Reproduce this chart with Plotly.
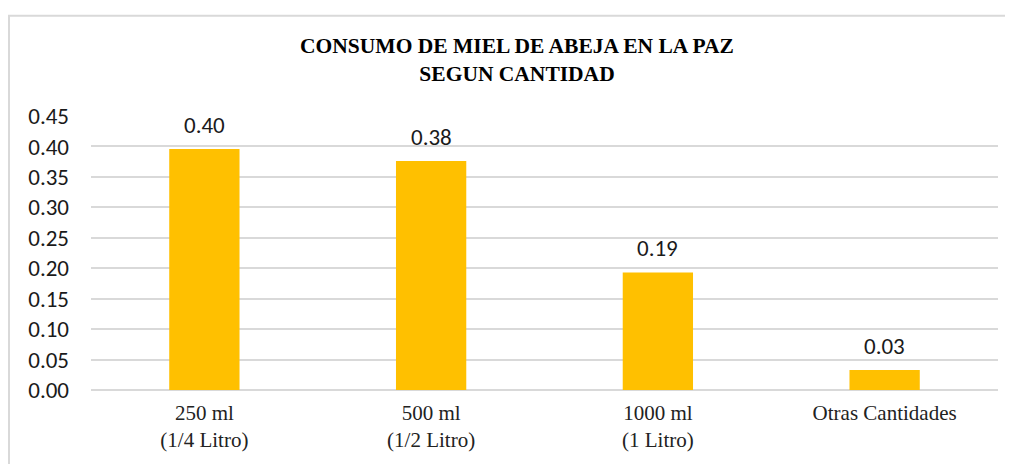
import plotly.graph_objects as go

categorias = ["250 ml<br>(1/4 Litro)", "500 ml<br>(1/2 Litro)", "1000 ml<br>(1 Litro)", "Otras Cantidades"]
consumo = [0.396, 0.376, 0.193, 0.033]
ticks_y = [0.00, 0.05, 0.10, 0.15, 0.20, 0.25, 0.30, 0.35, 0.40, 0.45]

fuente_num = "Carlito, Liberation Sans, sans-serif"
fuente_serif = "Liberation Serif, Times New Roman, serif"

fig = go.Figure()
fig.add_trace(go.Bar(
    x=categorias,
    y=consumo,
    marker=dict(color="#FFC000", line=dict(width=0)),
    width=0.31,
))

# etiquetas de datos encima de cada barra
for c, v in zip(categorias, consumo):
    fig.add_annotation(x=c, y=v, text=f"{v:.2f}", showarrow=False, yshift=24,
                       font=dict(family=fuente_num, size=23, color="#1a1a1a"))

# borde del grafico
fig.add_shape(type="rect", xref="paper", yref="paper", x0=-0.0904, y0=-0.4, x1=1.05, y1=1.366,
              line=dict(color="#d9d9d9", width=2), fillcolor="rgba(0,0,0,0)", layer="below")

# la pagina tiene 8px de margen en el body, por eso 1005x456
fig.update_layout(
    width=1005, height=456,
    margin=dict(l=83, r=15, t=108, b=72),
    paper_bgcolor="white", plot_bgcolor="white",
    showlegend=False,
    title=dict(text="<b>CONSUMO DE MIEL DE ABEJA EN LA PAZ<br>SEGUN CANTIDAD</b>",
               x=0.5065, xanchor="center", y=0.902, yanchor="top",
               font=dict(family=fuente_serif, size=21.5, color="black")),
    xaxis=dict(tickfont=dict(family=fuente_serif, size=21, color="#222"),
               showline=False, ticks="", ticklabelstandoff=8),
    yaxis=dict(range=[0, 0.45], tickvals=ticks_y, tickformat=".2f",
               tickfont=dict(family=fuente_num, size=23, color="#1a1a1a"),
               gridcolor="#d9d9d9", gridwidth=1.5, zeroline=True, zerolinecolor="#d9d9d9",
               zerolinewidth=1.5, ticks="", ticklabelstandoff=21),
)

fig.write_html("out.html")
